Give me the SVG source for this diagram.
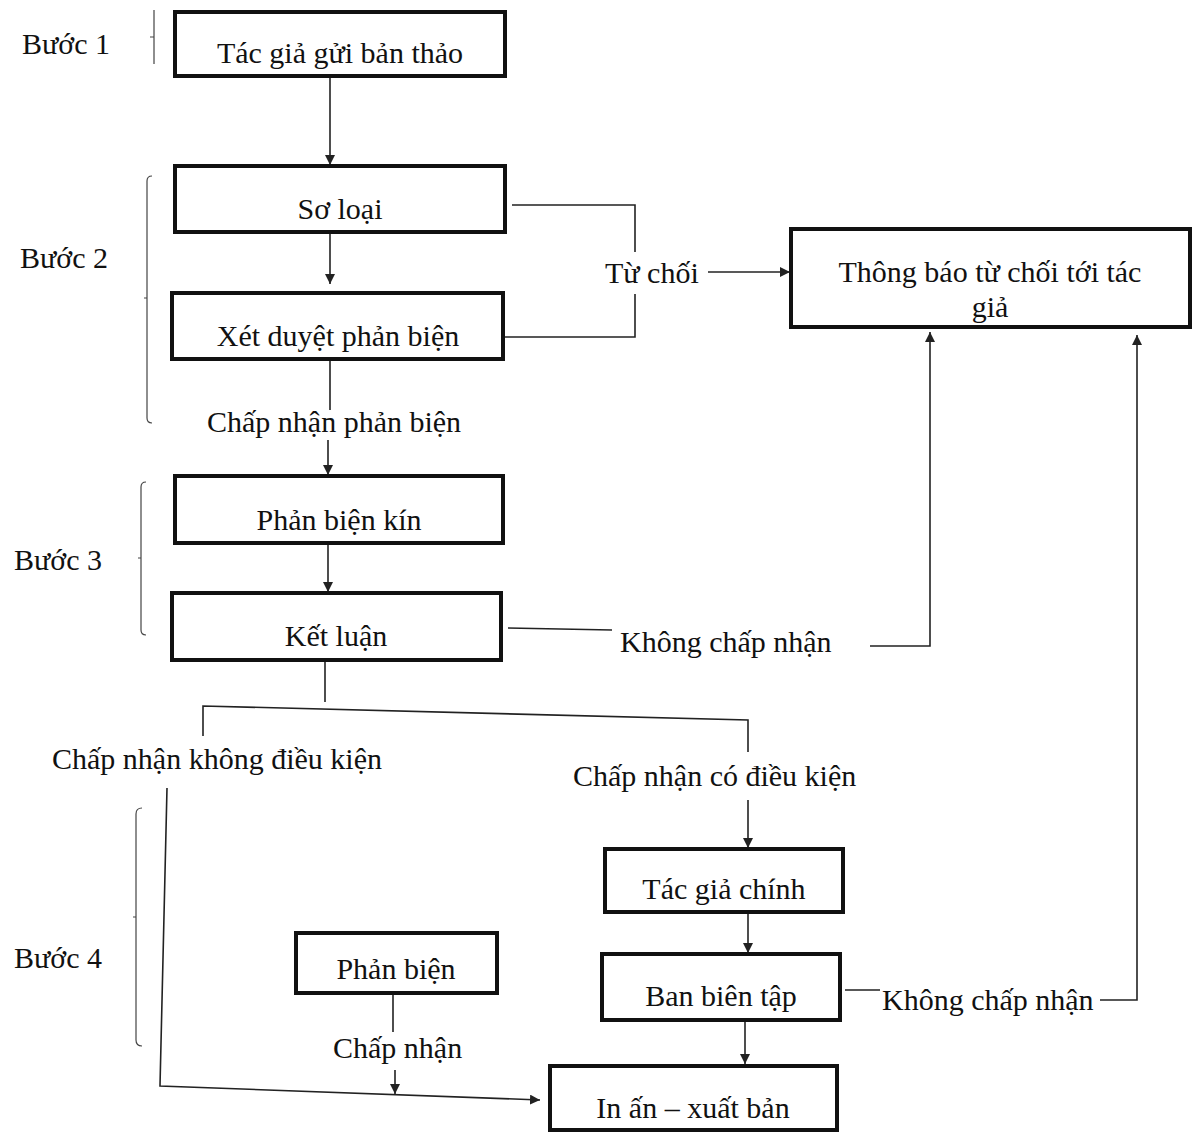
<svg xmlns="http://www.w3.org/2000/svg" width="1193" height="1135" viewBox="0 0 1193 1135">
<style>
.box{fill:#fff;stroke:#111;stroke-width:4}
.t{font-family:"Liberation Serif","Times New Roman",serif;font-size:30px;fill:#111}
.c{text-anchor:middle}
.ln{fill:none;stroke:#222;stroke-width:1.6}
.br{fill:none;stroke:#444;stroke-width:1.2}
</style>
<defs>
<marker id="ah" viewBox="0 0 10 10" refX="10" refY="5" markerWidth="10" markerHeight="10" markerUnits="userSpaceOnUse" orient="auto">
<path d="M0,0 L10,5 L0,10 z" fill="#222"/>
</marker>
</defs>
<rect width="1193" height="1135" fill="#fff"/>

<g id="steps">
<text class="t" x="22" y="54">Bước 1</text>
<path class="br" d="M154,10 V64 M150,37 h4"/>
<text class="t" x="20" y="268">Bước 2</text>
<path class="br" d="M152,176 q-5,0 -5,5 V418 q0,5 5,5 M147,298 h-3"/>
<text class="t" x="14" y="570">Bước 3</text>
<path class="br" d="M146,482 q-5,0 -5,5 V630 q0,5 5,5 M141,558 h-3"/>
<text class="t" x="14" y="968">Bước 4</text>
<path class="br" d="M142,808 q-6,0 -6,6 V1040 q0,6 6,6 M136,917 h-3"/>
</g>

<g id="connectors">
<path class="ln" d="M330,78 V165" marker-end="url(#ah)"/>
<path class="ln" d="M330,234 V284" marker-end="url(#ah)"/>
<path class="ln" d="M330,361 V410 M328,440 V475" marker-end="url(#ah)"/>
<path class="ln" d="M512,205 H635 V252 M635,294 V337 H505"/>
<path class="ln" d="M708,272 H790" marker-end="url(#ah)"/>
<path class="ln" d="M328,545 V592" marker-end="url(#ah)"/>
<path class="ln" d="M508,628 L612,630"/>
<path class="ln" d="M870,646 H930 V332" marker-end="url(#ah)"/>
<path class="ln" d="M325,662 V702 M203,736 V706 L748,720 V752"/>
<path class="ln" d="M748,800 V848" marker-end="url(#ah)"/>
<path class="ln" d="M167,788 L160,1086 L540,1100" marker-end="url(#ah)"/>
<path class="ln" d="M748,914 V953" marker-end="url(#ah)"/>
<path class="ln" d="M845,990 H880 M1100,1000 H1137 V335" marker-end="url(#ah)"/>
<path class="ln" d="M393,995 V1032 M395,1070 V1094" marker-end="url(#ah)"/>
<path class="ln" d="M745,1022 V1064" marker-end="url(#ah)"/>
</g>

<g id="labels">
<text class="t" x="605" y="283">Từ chối</text>
<text class="t" x="207" y="432">Chấp nhận phản biện</text>
<text class="t" x="620" y="652">Không chấp nhận</text>
<text class="t" x="52" y="769">Chấp nhận không điều kiện</text>
<text class="t" x="573" y="786">Chấp nhận có điều kiện</text>
<text class="t" x="882" y="1010">Không chấp nhận</text>
<text class="t" x="333" y="1058">Chấp nhận</text>
</g>

<g id="n1"><rect class="box" x="175" y="12" width="330" height="64"/><text class="t c" x="340" y="63">Tác giả gửi bản thảo</text></g>
<g id="n2"><rect class="box" x="175" y="166" width="330" height="66"/><text class="t c" x="340" y="219">Sơ loại</text></g>
<g id="n3"><rect class="box" x="172" y="293" width="331" height="66"/><text class="t c" x="338" y="346">Xét duyệt phản biện</text></g>
<g id="n4"><rect class="box" x="791" y="229" width="399" height="98"/><text class="t c" x="990" y="282">Thông báo từ chối tới tác</text><text class="t c" x="990" y="317">giả</text></g>
<g id="n5"><rect class="box" x="175" y="476" width="328" height="67"/><text class="t c" x="339" y="530">Phản biện kín</text></g>
<g id="n6"><rect class="box" x="172" y="593" width="329" height="67"/><text class="t c" x="336" y="646">Kết luận</text></g>
<g id="n7"><rect class="box" x="605" y="849" width="238" height="63"/><text class="t c" x="724" y="899">Tác giả chính</text></g>
<g id="n8"><rect class="box" x="602" y="954" width="238" height="66"/><text class="t c" x="721" y="1006">Ban biên tập</text></g>
<g id="n9"><rect class="box" x="296" y="933" width="201" height="60"/><text class="t c" x="396" y="979">Phản biện</text></g>
<g id="n10"><rect class="box" x="550" y="1066" width="287" height="64"/><text class="t c" x="693" y="1118">In ấn – xuất bản</text></g>
</svg>
